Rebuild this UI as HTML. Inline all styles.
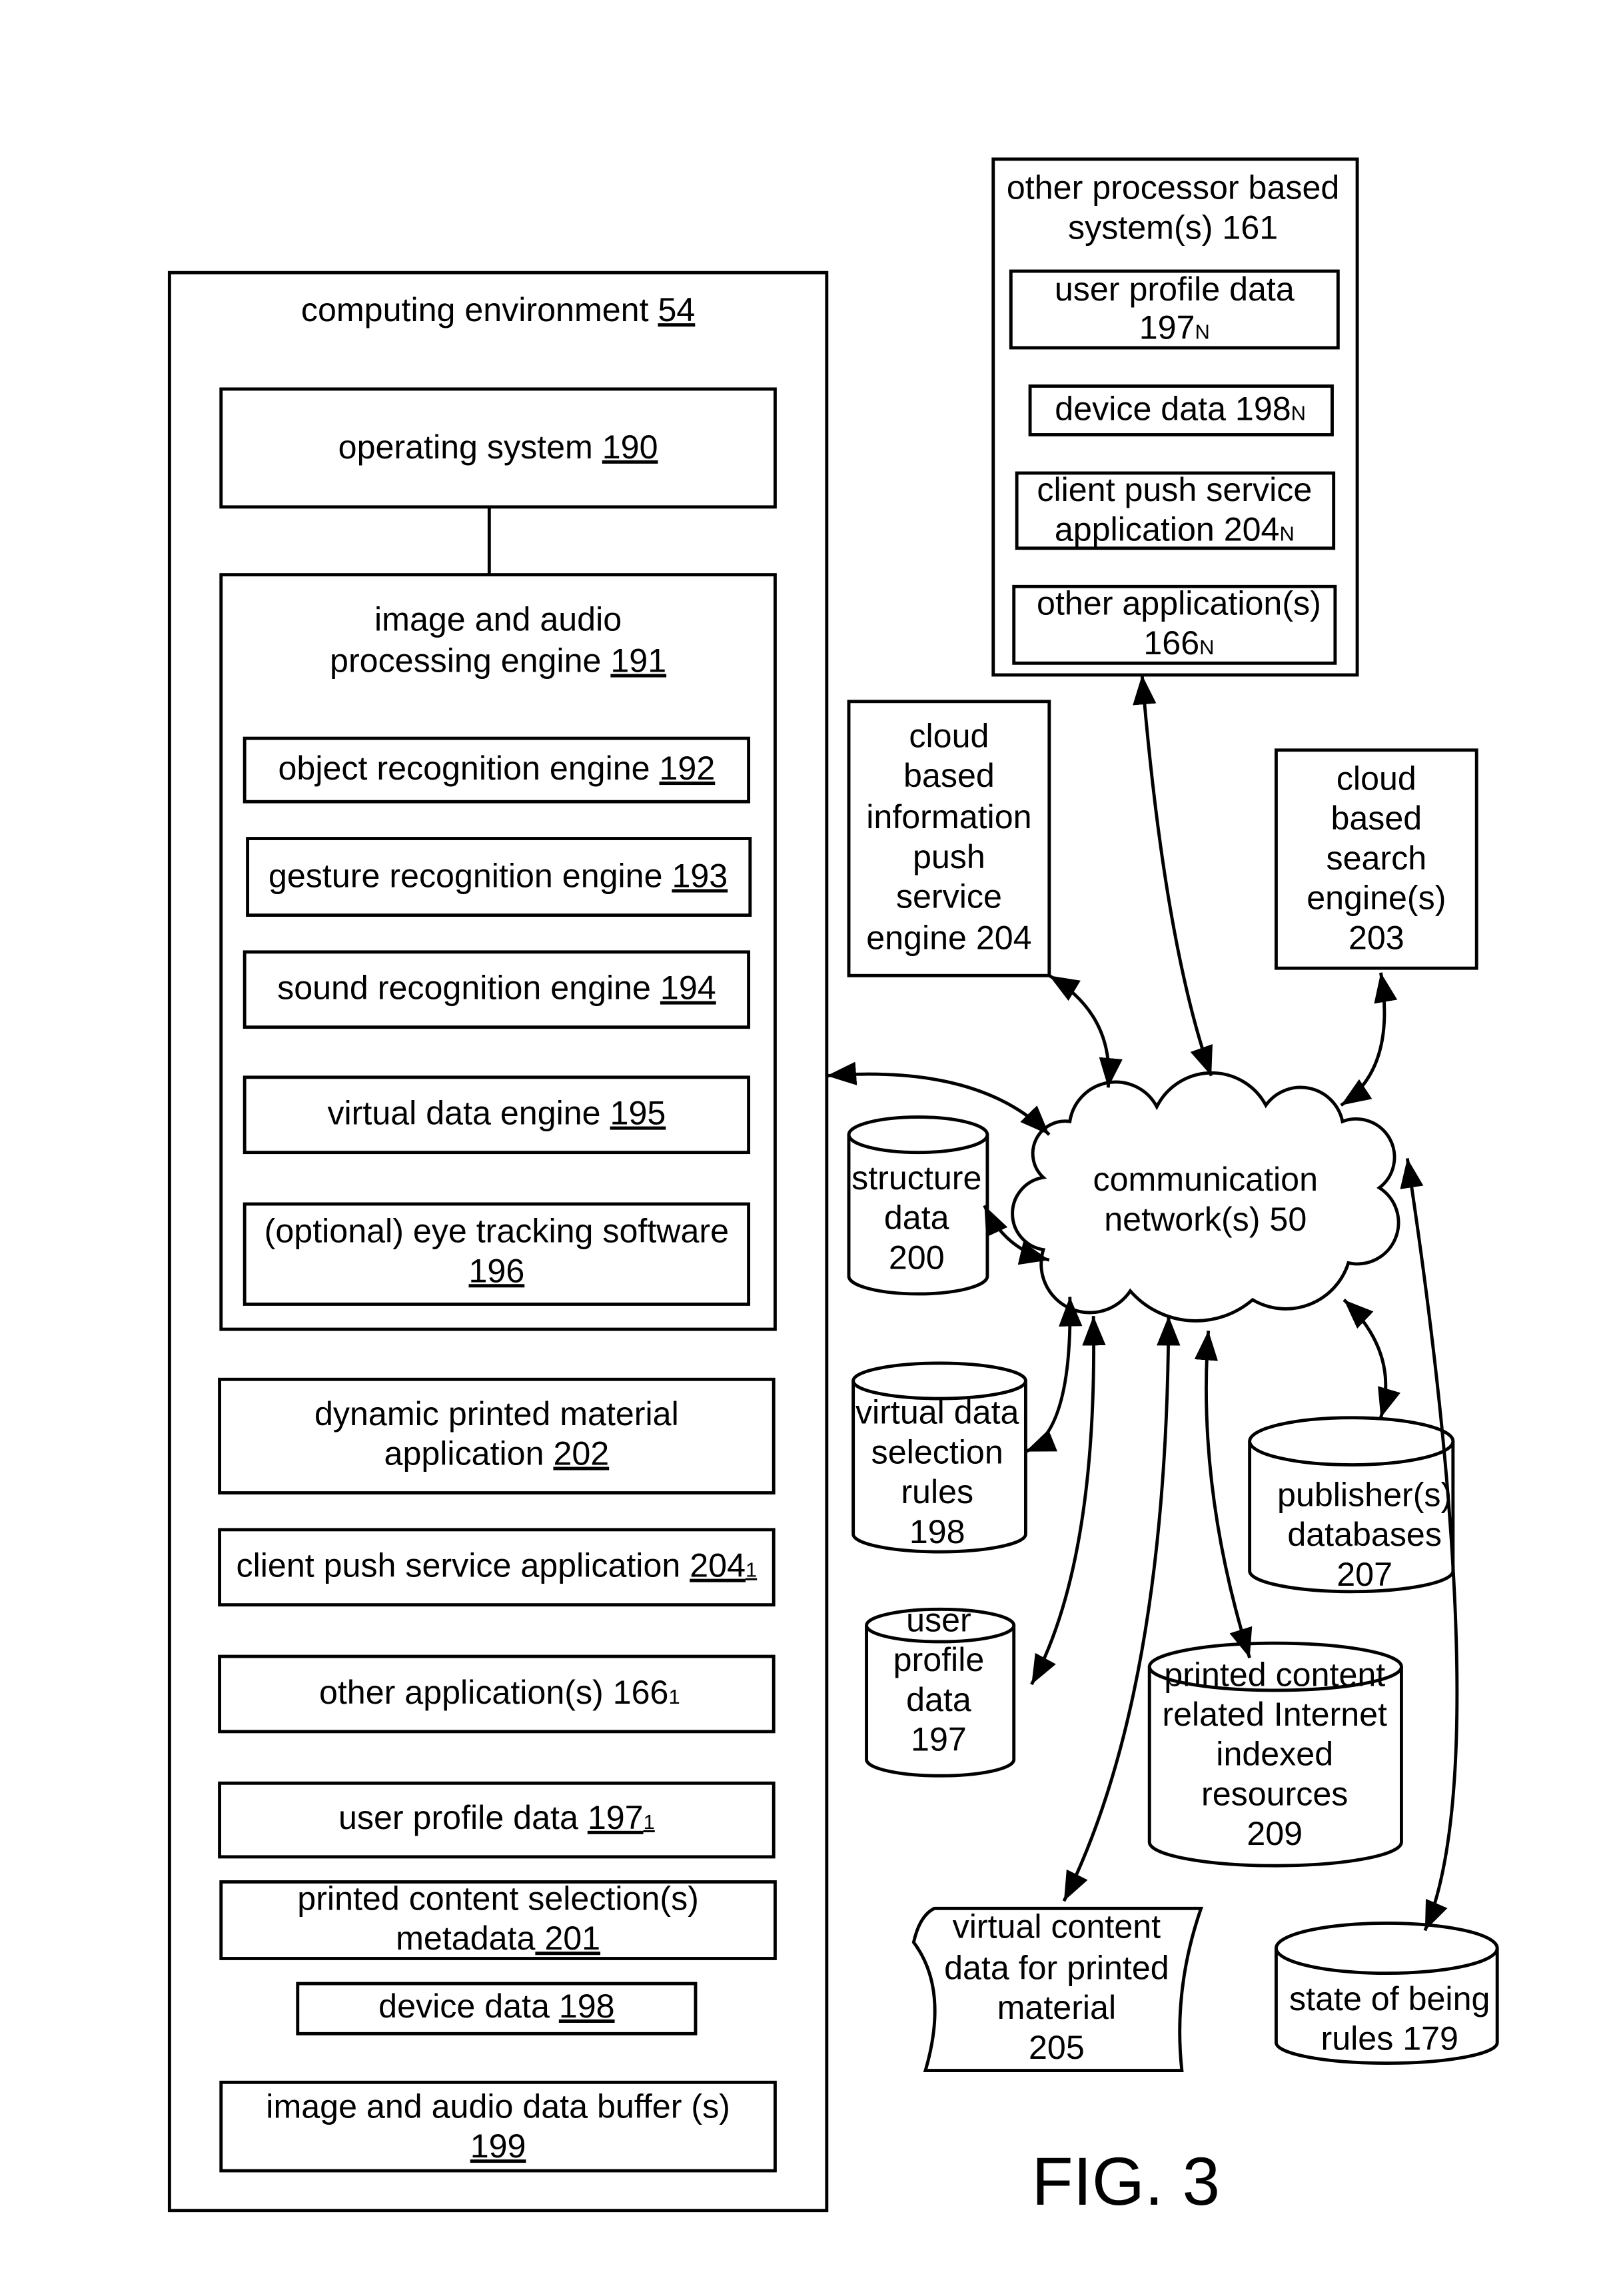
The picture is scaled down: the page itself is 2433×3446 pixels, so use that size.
<!DOCTYPE html>
<html><head><meta charset="utf-8"><style>
html,body{margin:0;padding:0;background:#fff;}
svg{display:block;}
text{font-family:"Liberation Sans",Arial,sans-serif;font-size:22.7px;fill:#000;text-anchor:middle;}
.u{text-decoration:underline;}
.s{font-size:14px;}
</style></head><body>
<svg width="2433" height="3446" viewBox="0 0 1100 1558" xmlns="http://www.w3.org/2000/svg">
<defs>
<marker id="a" markerUnits="userSpaceOnUse" markerWidth="22" markerHeight="16" refX="20" refY="8" orient="auto-start-reverse">
<path d="M0,0 L20,8 L0,16 Z" fill="#000"/></marker>
</defs>
<g fill="none" stroke="#000" stroke-width="2.2">
<rect x="115" y="185" width="446" height="1315"/>
<rect x="150" y="264" width="376" height="80"/>
<line x1="332" y1="344" x2="332" y2="390"/>
<rect x="150" y="390" width="376" height="512"/>
<rect x="166" y="501" width="342" height="43"/>
<rect x="168" y="569" width="341" height="52"/>
<rect x="166" y="646" width="342" height="51"/>
<rect x="166" y="731" width="342" height="51"/>
<rect x="166" y="817" width="342" height="68"/>
<rect x="149" y="936" width="376" height="77"/>
<rect x="149" y="1038" width="376" height="51"/>
<rect x="149" y="1124" width="376" height="51"/>
<rect x="149" y="1210" width="376" height="50"/>
<rect x="150" y="1277" width="376" height="52"/>
<rect x="202" y="1346" width="270" height="34"/>
<rect x="150" y="1413" width="376" height="60"/>
<rect x="674" y="108" width="247" height="350"/>
<rect x="686" y="184" width="222" height="52"/>
<rect x="699" y="262" width="205" height="33"/>
<rect x="690" y="321" width="215" height="51"/>
<rect x="688" y="398" width="218" height="52"/>
<rect x="576" y="476" width="136" height="186"/>
<rect x="866" y="509" width="136" height="148"/>
<path d="M726,761 A31.5,31.5 0 0 1 785,751 A41.7,41.7 0 0 1 859,750 A29,29 0 0 1 911,761 A26,26 0 0 1 936,806 A28,28 0 0 1 915,857 A44.5,44.5 0 0 1 850,882 A59,59 0 0 1 767,876 A33,33 0 0 1 708,848 A24.8,24.8 0 0 1 708,799 A22,22 0 0 1 726,761 Z" fill="#fff"/>
<path d="M576,770 L576,866 A47,12 0 0 0 670,866 L670,770"/><ellipse cx="623" cy="770" rx="47" ry="12"/>
<path d="M579,937 L579,1041 A58.5,12 0 0 0 696,1041 L696,937"/><ellipse cx="637.5" cy="937" rx="58.5" ry="12"/>
<path d="M588,1103 L588,1194 A50,11 0 0 0 688,1194 L688,1103"/><ellipse cx="638" cy="1103" rx="50" ry="11"/>
<path d="M848,978 L848,1066 A69,14 0 0 0 986,1066 L986,978"/><ellipse cx="917" cy="978" rx="69" ry="16"/>
<path d="M780,1131 L780,1250 A85.5,16 0 0 0 951,1250 L951,1131"/><ellipse cx="865.5" cy="1131" rx="85.5" ry="16"/>
<path d="M866,1322 L866,1386 A75,14 0 0 0 1016,1386 L1016,1322"/><ellipse cx="941" cy="1322" rx="75" ry="17"/>
<path d="M634,1295 L815,1295 Q796,1350 802,1405 L628,1405 Q644,1350 620,1318 Q624,1300 634,1295 Z"/>
<g marker-start="url(#a)" marker-end="url(#a)">
<path d="M561,730 Q665,722 712,770"/>
<path d="M712,662 C742,680 755,705 752,738"/>
<path d="M775,458 Q790,640 822,730"/>
<path d="M937,660 Q948,725 910,750"/>
<path d="M668,818 Q682,848 712,855"/>
<path d="M696,985 Q728,972 726,880"/>
<path d="M700,1143 Q745,1060 742,893"/>
<path d="M722,1290 Q792,1150 793,893"/>
<path d="M848,1125 Q812,1010 820,903"/>
<path d="M937,962 Q950,918 912,882"/>
<path d="M967,1310 C1010,1210 980,950 955,786"/>
</g>
</g>
<text x="338" y="218">computing environment <tspan class="u">54</tspan></text>
<text x="338" y="311">operating system <tspan class="u">190</tspan></text>
<text x="338" y="428">image and audio</text>
<text x="338" y="456">processing engine <tspan class="u">191</tspan></text>
<text x="337" y="529">object recognition engine <tspan class="u">192</tspan></text>
<text x="338" y="602">gesture recognition engine <tspan class="u">193</tspan></text>
<text x="337" y="678">sound recognition engine <tspan class="u">194</tspan></text>
<text x="337" y="763">virtual data engine <tspan class="u">195</tspan></text>
<text x="337" y="843">(optional) eye tracking software</text>
<text x="337" y="870" class="u">196</text>
<text x="337" y="967">dynamic printed material</text>
<text x="337" y="994">application <tspan class="u">202</tspan></text>
<text x="337" y="1070">client push service application <tspan class="u">204<tspan class="s">1</tspan></tspan></text>
<text x="339" y="1156">other application(s) 166<tspan class="s">1</tspan></text>
<text x="337" y="1241">user profile data <tspan class="u">197<tspan class="s">1</tspan></tspan></text>
<text x="338" y="1296">printed content selection(s)</text>
<text x="338" y="1323">metadata<tspan class="u"> 201</tspan></text>
<text x="337" y="1369">device data <tspan class="u">198</tspan></text>
<text x="338" y="1437">image and audio data buffer (s)</text>
<text x="338" y="1464" class="u">199</text>
<text x="796" y="135">other processor based</text>
<text x="796" y="162">system(s) 161</text>
<text x="797" y="204">user profile data</text>
<text x="797" y="230">197<tspan class="s">N</tspan></text>
<text x="801" y="285">device data 198<tspan class="s">N</tspan></text>
<text x="797" y="340">client push service</text>
<text x="797" y="367">application 204<tspan class="s">N</tspan></text>
<text x="800" y="417">other application(s)</text>
<text x="800" y="444">166<tspan class="s">N</tspan></text>
<text x="644" y="507">cloud</text>
<text x="644" y="534">based</text>
<text x="644" y="562">information</text>
<text x="644" y="589">push</text>
<text x="644" y="616">service</text>
<text x="644" y="644">engine 204</text>
<text x="934" y="536">cloud</text>
<text x="934" y="563">based</text>
<text x="934" y="590">search</text>
<text x="934" y="617">engine(s)</text>
<text x="934" y="644">203</text>
<text x="818" y="808">communication</text>
<text x="818" y="835">network(s) 50</text>
<text x="622" y="807">structure</text>
<text x="622" y="834">data</text>
<text x="622" y="861">200</text>
<text x="636" y="966">virtual data</text>
<text x="636" y="993">selection</text>
<text x="636" y="1020">rules</text>
<text x="636" y="1047">198</text>
<text x="637" y="1107">user</text>
<text x="637" y="1134">profile</text>
<text x="637" y="1161">data</text>
<text x="637" y="1188">197</text>
<text x="926" y="1022">publisher(s)</text>
<text x="926" y="1049">databases</text>
<text x="926" y="1076">207</text>
<text x="865" y="1144">printed content</text>
<text x="865" y="1171">related Internet</text>
<text x="865" y="1198">indexed</text>
<text x="865" y="1225">resources</text>
<text x="865" y="1252">209</text>
<text x="943" y="1364">state of being</text>
<text x="943" y="1391">rules 179</text>
<text x="717" y="1315">virtual content</text>
<text x="717" y="1343">data for printed</text>
<text x="717" y="1370">material</text>
<text x="717" y="1397">205</text>
<text x="764" y="1496" style="font-size:46px">FIG. 3</text>
</svg>
</body></html>
